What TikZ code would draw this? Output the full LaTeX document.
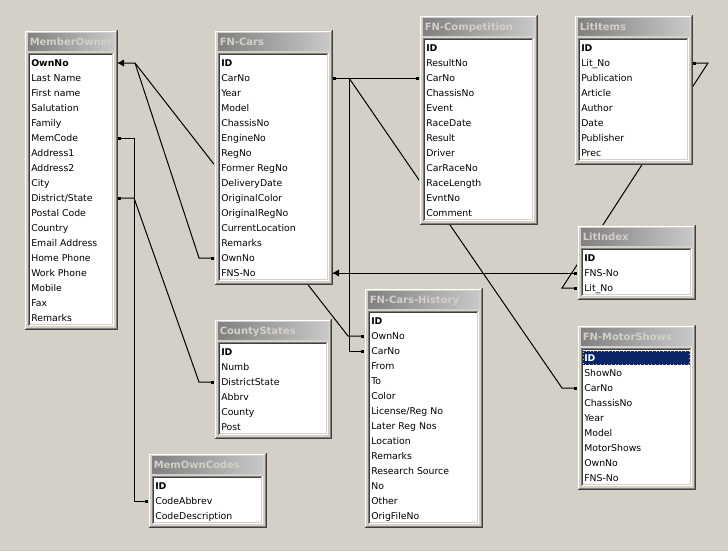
\documentclass[tikz,border=0pt]{standalone}
\usepackage{fontspec}
\setmainfont{DejaVu Sans}
\usetikzlibrary{calc}
\definecolor{winbg}{HTML}{D4D0C8}
\definecolor{capdark}{HTML}{808080}
\definecolor{caplight}{HTML}{C8C8C8}
\definecolor{captext}{HTML}{D4D0C8}
\definecolor{shadowgray}{HTML}{808080}
\definecolor{dkshadow}{HTML}{404040}
\definecolor{selblue}{HTML}{0A246A}
\definecolor{focusyellow}{HTML}{E8C850}
\pgfdeclarelayer{canvas}
\pgfdeclarelayer{links}
\pgfsetlayers{canvas,links,main}
\tikzset{
  rowtext/.style={anchor=base west, inner sep=0pt, font=\fontsize{7}{8}\selectfont, text=black},
  captiontext/.style={anchor=base west, inner sep=0pt, font=\fontsize{7.5}{9}\selectfont\bfseries, text=captext},
  link/.style={draw=black, line width=0.75pt},
  framelight/.style={draw=white, line width=0.75pt},
  framedark/.style={draw=dkshadow, line width=0.75pt},
  framemid/.style={draw=shadowgray, line width=0.75pt},
}
% #1 id, #2 x0, #3 x1, #4 first row y, #5 number of rows, #6 title, #7 rows
\newcommand\dbtable[7]{%
  \pgfmathsetmacro\dbtop{#4-33.5}%
  \pgfmathsetmacro\dbbot{#4+15*(#5-1)+12}%
  \fill[winbg] (#2,\dbtop) rectangle (#3,\dbbot);
  \draw[framelight] (#2+1.5,\dbbot-1.5) |- (#3-1.5,\dbtop+1.5);
  \draw[framedark] (#2+0.5,\dbbot-0.5) -| (#3-0.5,\dbtop+0.5);
  \draw[framemid] (#2+1.5,\dbbot-1.5) -| (#3-1.5,\dbtop+1.5);
  \shade[left color=capdark, right color=caplight] (#2+4,\dbtop+4) rectangle (#3-4,\dbtop+21);
  \node[captiontext] (#1) at (#2+5.5,\dbtop+16.2) {#6};
  \fill[white] (#2+4,\dbtop+23) rectangle (#3-4,\dbbot-4);
  \draw[framemid] (#2+4.5,\dbbot-4.5) |- (#3-4.5,\dbtop+23.5);
  \draw[framedark] (#2+5.5,\dbbot-5.5) |- (#3-5.5,\dbtop+24.5);
  \draw[framelight] (#2+4.5,\dbbot-4.5) -| (#3-4.5,\dbtop+23.5);
  \draw[draw=winbg, line width=0.75pt] (#2+5.5,\dbbot-5.5) -| (#3-5.5,\dbtop+24.5);
  \foreach \r [count=\i] in {#7} {
    \node[rowtext] (#1-\i) at (#2+7,#4+15*\i-15+3.5) {\r};
    \coordinate (#1-\i-L) at (#2,#4+15*\i-15);
    \coordinate (#1-\i-R) at (#3,#4+15*\i-15);
  }
}
\newcommand\linkdotR[1]{\fill ($(#1)+(0,-1.5)$) rectangle ++(3,3);}
\newcommand\linkdotL[1]{\fill ($(#1)+(-3,-1.5)$) rectangle ++(3,3);}
\newcommand\linkarrow[1]{\fill (#1) -- ++(6,-3.5) -- ++(0,7) -- cycle;}
\begin{document}
\begin{tikzpicture}[x=0.75pt,y=-0.75pt]
\useasboundingbox (0,0) rectangle (728,551);
\begin{pgfonlayer}{canvas}
\fill[winbg] (0,0) rectangle (728,551);
\end{pgfonlayer}

\dbtable{mo}{24}{118}{63}{18}{MemberOwner}{{\bfseries OwnNo},Last Name,First name,Salutation,Family,MemCode,Address1,Address2,City,District/State,Postal Code,Country,Email Address,Home Phone,Work Phone,Mobile,Fax,Remarks}
\dbtable{cars}{214}{333}{63}{15}{FN-Cars}{{\bfseries ID},CarNo,Year,Model,ChassisNo,EngineNo,RegNo,Former RegNo,DeliveryDate,OriginalColor,OriginalRegNo,CurrentLocation,Remarks,OwnNo,FNS-No}
\dbtable{comp}{419}{538}{48}{12}{FN-Competition}{{\bfseries ID},ResultNo,CarNo,ChassisNo,Event,RaceDate,Result,Driver,CarRaceNo,RaceLength,EvntNo,Comment}
\dbtable{lit}{574}{693}{48}{8}{LitItems}{{\bfseries ID},Lit\_No,Publication,Article,Author,Date,Publisher,Prec}
\dbtable{lidx}{577}{696}{258}{3}{LitIndex}{{\bfseries ID},FNS-No,Lit\_No}
\dbtable{ms}{577}{696}{358}{9}{FN-MotorShows}{{\bfseries ID},ShowNo,CarNo,ChassisNo,Year,Model,MotorShows,OwnNo,FNS-No}
\dbtable{cs}{214}{332}{352}{6}{CountyStates}{{\bfseries ID},Numb,DistrictState,Abbrv,County,Post}
\dbtable{moc}{148}{267}{486}{3}{MemOwnCodes}{{\bfseries ID},CodeAbbrev,CodeDescription}
\dbtable{hist}{364}{483}{321}{14}{FN-Cars-History}{{\bfseries ID},OwnNo,CarNo,From,To,Color,License/Reg No,Later Reg Nos,Location,Remarks,Research Source,No,Other,OrigFileNo}

% selected row in FN-MotorShows
\fill[selblue] ($(ms-1-L)+(6,-7)$) rectangle ($(ms-1-R)+(-6,7)$);
\draw[focusyellow, dotted, line width=0.75pt] ($(ms-1-L)+(6.5,-6.5)$) rectangle ($(ms-1-R)+(-6.5,6.5)$);
\path (ms-1-L) ++(7,3.5) node[rowtext, text=white] (ms-1-sel) {\bfseries ID};

\begin{pgfonlayer}{links}
\draw[link] (mo-1-R) -- ++(17,0) coordinate (moown) -- ($(cars-14-L)+(-15,0)$) -- (cars-14-L);
\draw[link] (moown) -- ($(hist-2-L)+(-16,0)$) -- (hist-2-L);
\draw[link] (mo-6-R) -- ++(16,0) |- (moc-2-L);
\draw[link] (mo-10-R) -- ++(16,0) -- ($(cs-3-L)+(-15,0)$) -- (cs-3-L);
\draw[link] (cars-2-R) -- (comp-3-L);
\coordinate (carsjoint) at ($(cars-2-R)+(16,0)$);
\draw[link] (carsjoint) |- (hist-3-L);
\draw[link] (carsjoint) -- ($(ms-3-L)+(-15,0)$) -- (ms-3-L);
\draw[link] (cars-15-R) -- (lidx-2-L);
\draw[link] (lit-2-R) -- ++(15,0) -- ($(lidx-3-L)+(-15,0)$) -- (lidx-3-L);
\end{pgfonlayer}

\linkarrow{mo-1-R}
\linkarrow{cars-15-R}
\linkdotR{mo-6-R}
\linkdotR{mo-10-R}
\linkdotL{cars-14-L}
\linkdotL{hist-2-L}
\linkdotL{moc-2-L}
\linkdotL{cs-3-L}
\linkdotR{cars-2-R}
\linkdotL{comp-3-L}
\linkdotL{hist-3-L}
\linkdotL{ms-3-L}
\linkdotL{lidx-2-L}
\linkdotR{lit-2-R}
\linkdotL{lidx-3-L}
\end{tikzpicture}
\end{document}
